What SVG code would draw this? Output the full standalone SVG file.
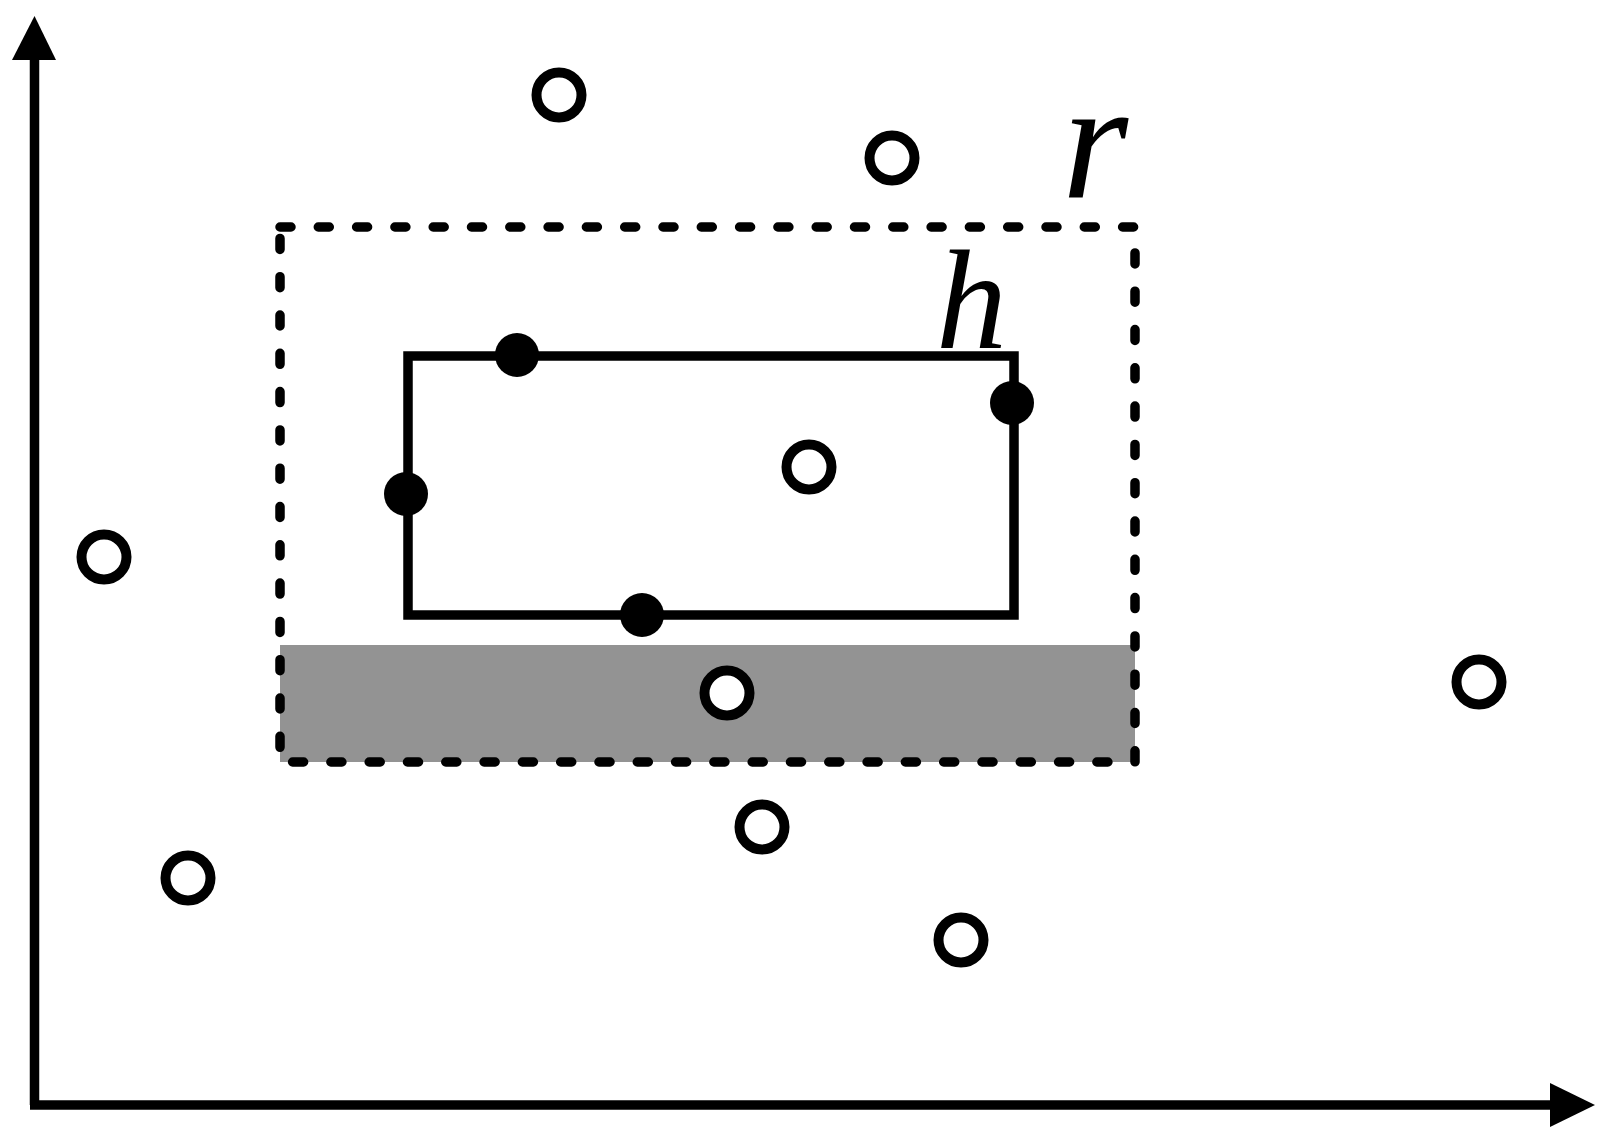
<svg xmlns="http://www.w3.org/2000/svg" width="1614" height="1142" viewBox="0 0 1614 1142">
<style>
.axis{stroke:#000;stroke-width:9.5;fill:none}
.open{fill:#fff;stroke:#000;stroke-width:10}
.dot{fill:#000}
.dash{fill:none;stroke:#000;stroke-width:9.5;stroke-dasharray:11 27.3;stroke-linecap:round}
.box{fill:none;stroke:#000;stroke-width:9.5}
.lbl{font-family:"Liberation Serif",serif;font-style:italic;fill:#000}
</style>
<rect width="1614" height="1142" fill="#fff"/>
<g id="connectors">
<line class="axis" x1="34.5" y1="1105" x2="34.5" y2="58"/>
<polygon points="12,60 34.5,16 56,60" fill="#000"/>
<line class="axis" x1="30" y1="1105" x2="1552" y2="1105"/>
<polygon points="1550,1083 1595,1105 1550,1127" fill="#000"/>
</g>
<g id="region-r">
<rect x="280" y="645" width="855" height="117" fill="#939393"/>
<rect class="dash" x="280" y="227" width="855" height="535"/>
<text class="lbl" x="1062" y="197" font-size="170">r</text>
</g>
<g id="region-h">
<rect class="box" x="408" y="356" width="606" height="259"/>
<text class="lbl" x="936" y="348" font-size="142">h</text>
</g>
<g id="filled-points">
<circle class="dot" cx="517" cy="355" r="22"/>
<circle class="dot" cx="406" cy="494" r="22"/>
<circle class="dot" cx="642" cy="615" r="22"/>
<circle class="dot" cx="1012" cy="403" r="22"/>
</g>
<g id="open-points">
<circle class="open" cx="559" cy="95" r="22.5"/>
<circle class="open" cx="892" cy="158" r="22.5"/>
<circle class="open" cx="809" cy="467" r="22.5"/>
<circle class="open" cx="104" cy="557" r="22.5"/>
<circle class="open" cx="1479" cy="682" r="22.5"/>
<circle class="open" cx="727" cy="693" r="22.5"/>
<circle class="open" cx="762" cy="827" r="22.5"/>
<circle class="open" cx="188" cy="878" r="22.5"/>
<circle class="open" cx="961" cy="940" r="22.5"/>
</g>
</svg>
